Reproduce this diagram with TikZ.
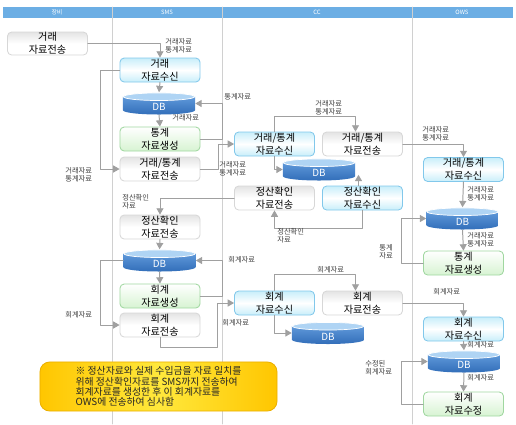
\documentclass[tikz,border=0pt]{standalone}
\usepackage{fontspec}
\setmainfont{Noto Sans CJK KR}
\usepackage{tikz}
\usetikzlibrary{positioning}
\usetikzlibrary{calc}
\usetikzlibrary{arrows.meta}

\definecolor{hdrblue}{RGB}{108,174,228}
\definecolor{colgray}{RGB}{208,208,208}
\definecolor{linegray}{RGB}{160,160,160}
\definecolor{recvline}{RGB}{130,200,235}
\definecolor{recvfill}{RGB}{200,238,250}
\definecolor{genline}{RGB}{160,215,160}
\definecolor{genfill}{RGB}{215,243,210}
\definecolor{sendline}{RGB}{215,215,215}
\definecolor{sendfill}{RGB}{228,228,228}
\definecolor{dbdark}{RGB}{50,110,185}
\definecolor{dblight}{RGB}{105,162,225}
\definecolor{dbtop}{RGB}{175,212,244}
\definecolor{notegold}{RGB}{255,198,0}
\definecolor{noteyel}{RGB}{255,232,60}
\definecolor{noteline}{RGB}{235,175,0}

\begin{document}
\begin{tikzpicture}[x=0.025cm, y=-0.025cm, line cap=round, line join=round,
  box/.style={rounded corners=3pt, minimum width=2cm, minimum height=0.6cm, inner sep=0pt,
    align=center, font=\fontsize{7.2}{9.4}\selectfont, line width=0.6pt},
  recv/.style={box, draw=recvline, top color=recvfill, bottom color=recvfill, middle color=white},
  gen/.style={box, draw=genline, top color=white, bottom color=genfill},
  send/.style={box, draw=sendline, top color=sendfill, bottom color=white, middle color=white},
  db/.style={minimum width=1.8cm, minimum height=0.55cm, inner sep=0pt, fill=white, text=white,
    text height=10.5pt, text depth=0pt, font=\fontsize{7}{8}\selectfont, path picture={
      \fill[top color=dblight, bottom color=dbdark]
        let \p1=(path picture bounding box.north west), \p2=(path picture bounding box.south east) in
        (\x1,\y1-3pt) -- (\x1,\y2+3pt)
        arc[start angle=180, end angle=360, x radius={(\x2-\x1)/2}, y radius=3pt]
        -- (\x2,\y1-3pt) -- cycle;
      \filldraw[fill=dbtop, draw=white, line width=0.5pt]
        let \p1=(path picture bounding box.north west), \p2=(path picture bounding box.south east) in
        ({(\x1+\x2)/2},\y1-3pt) ellipse [x radius={(\x2-\x1)/2-0.3pt}, y radius=2.7pt];
    }},
  flow/.style={draw=linegray, line width=0.7pt, -{Triangle[length=4.5pt, width=5pt]}},
  lbl/.style={anchor=west, inner sep=0pt, align=left, text=black!75, font=\fontsize{5.2}{6}\selectfont},
  hdrtxt/.style={inner sep=0pt, text=white, font=\fontsize{4.2}{5}\selectfont},
  colline/.style={draw=colgray, line width=0.6pt},
  note/.style={rounded corners=7pt, draw=noteline, line width=0.6pt, left color=notegold,
    right color=notegold, middle color=noteyel, minimum width=5.925cm, minimum height=1.075cm,
    align=left, text=black!85, font=\fontsize{7}{7.3}\selectfont}]

\useasboundingbox (0,0) rectangle (516,424);

% lanes
\fill[hdrblue] (3,7) rectangle (513,18);
\draw[colline] (112,7) -- (112,424);
\draw[colline] (222,7) -- (222,424);
\draw[colline] (412,7) -- (412,424);
\node[hdrtxt] (hEq) at (57,12.5) {장비};
\node[hdrtxt] (hSms) at (167,12.5) {SMS};
\node[hdrtxt] (hCc) at (317,12.5) {CC};
\node[hdrtxt] (hOws) at (462,12.5) {OWS};

% boxes
\node[send, minimum height=0.575cm] (eqSend) at (47.5,43.5) {거래\\자료전송};

\node[recv] (smsRecv) at (160,70) {거래\\자료수신};
\node[db] (smsDB) at (159,103.5) {DB};
\node[gen] (smsStat) at (160,139) {통계\\자료생성};
\node[send] (smsSend) at (160,169) {거래/통계\\자료전송};
\node[send] (smsCalc) at (160,227) {정산확인\\자료전송};
\node[db] (smsDBb) at (159.5,260.5) {DB};
\node[gen] (smsAcct) at (160,296) {회계\\자료생성};
\node[send] (smsAcctSend) at (160,325) {회계\\자료전송};

\node[recv] (ccRecv) at (274.5,144) {거래/통계\\자료수신};
\node[send] (ccSend) at (362.5,144) {거래/통계\\자료전송};
\node[db] (ccDB) at (319,169.5) {DB};
\node[send] (ccCalcSend) at (274.5,198) {정산확인\\자료전송};
\node[recv] (ccCalcRecv) at (362.5,198) {정산확인\\자료수신};
\node[recv] (ccAcctRecv) at (274.5,303) {회계\\자료수신};
\node[send] (ccAcctSend) at (362.5,303) {회계\\자료전송};
\node[db] (ccDBb) at (328,333) {DB};

\node[recv] (owsRecv) at (463.5,169.5) {거래/통계\\자료수신};
\node[db] (owsDB) at (462.5,218.5) {DB};
\node[gen] (owsStat) at (463.5,263) {통계\\자료생성};
\node[recv] (owsAcctRecv) at (463.5,329) {회계\\자료수신};
\node[db] (owsDBb) at (464,361.5) {DB};
\node[gen] (owsFix) at (463.5,404) {회계\\자료수정};

\node[note] (note) at (158.5,386.5) {※ 정산자료와 실제 수입금을 자료 일치를\\위해 정산확인자료를 SMS까지 전송하여\\회계자료를 생성한 후 이 회계자료를\\OWS에 전송하여 심사함};

% flows
\draw[flow] (eqSend.east) -| (smsRecv.north);
\draw[flow] (smsRecv.south) -- (smsDB.north);
\draw[flow] (smsDB.south) -- (smsStat.north);
\draw[flow] (smsStat.east) -- ++(22,0) |- (smsDB.east);
\draw[flow] (smsRecv.west) -- ++(-19,0) |- (smsSend.west);
\draw[flow] (smsSend.east) -- ++(18,0) |- (ccRecv.west);
\draw[flow] (ccRecv.north) -- ++(0,-15) -| ($(ccSend.north)+(-7,0)$);
\draw[flow] (ccRecv.south) |- (ccDB.west);
\draw[flow] (ccSend.east) -| (owsRecv.north);
\draw[flow] (owsRecv.south) -- (owsDB.north);
\draw[flow] (owsDB.south) -- (owsStat.north);
\draw[flow] (owsStat.west) -- ++(-22,0) |- (owsDB.west);
\draw[flow] ($(ccCalcRecv.north)+(-4,0)$) -- ($(ccCalcRecv.north |- ccDB.south)+(-4,-6)$);
\draw[flow] (ccCalcRecv.south) -- ++(0,18) -| (ccCalcSend.south);
\draw[flow] (ccCalcSend.west) -| (smsCalc.north);
\draw[flow] (smsCalc.south) -- (smsDBb.north);
\draw[flow] (smsDBb.south) -- (smsAcct.north);
\draw[flow] (smsAcct.east) -- ++(22,0) |- (smsDBb.east);
\draw[flow] (smsDBb.west) -- ++(-23,0) |- (smsAcctSend.west);
\draw[flow] (smsAcctSend.south) -- ++(0,10) -- ++(57,0) |- (ccAcctRecv.west);
\draw[flow] (ccAcctRecv.north) -- ++(0,-16) -| ($(ccAcctSend.north)+(-7,0)$);
\draw[flow] (ccAcctRecv.south) |- (ccDBb.west);
\draw[flow] (ccAcctSend.east) -| (owsAcctRecv.north);
\draw[flow] (owsAcctRecv.south) -- (owsDBb.north);
\draw[flow] (owsDBb.south) -- (owsFix.north);
\draw[flow] (owsFix.west) -- ++(-22,0) |- (owsDBb.west);

% labels
\node[lbl] (lbA) at (165,46) {거래자료\\통계자료};
\node[lbl] (lbB) at (172,118) {거래자료};
\node[lbl] (lbC) at (224,97) {통계자료};
\node[lbl] (lbD) at (65,175) {거래자료\\통계자료};
\node[lbl] (lbE) at (219,169) {거래자료\\통계자료};
\node[lbl] (lbF) at (315,108) {거래자료\\통계자료};
\node[lbl] (lbG) at (422,133.5) {거래자료\\통계자료};
\node[lbl] (lbH) at (467,193.5) {거래자료\\통계자료};
\node[lbl] (lbI) at (467,239.5) {거래자료\\통계자료};
\node[lbl] (lbJ) at (379,252) {통계\\자료};
\node[lbl] (lbK) at (277,235.5) {정산확인\\자료};
\node[lbl] (lbL) at (122,202) {정산확인\\자료};
\node[lbl] (lbM) at (228,260) {회계자료};
\node[lbl] (lbN) at (65,315) {회계자료};
\node[lbl] (lbO) at (222,323) {회계자료};
\node[lbl] (lbP) at (317,270) {회계자료};
\node[lbl] (lbQ) at (433,292) {회계자료};
\node[lbl] (lbR) at (467,345) {회계자료};
\node[lbl] (lbS) at (467,378) {회계자료};
\node[lbl] (lbT) at (365,368) {수정된\\회계자료};
\end{tikzpicture}
\end{document}
